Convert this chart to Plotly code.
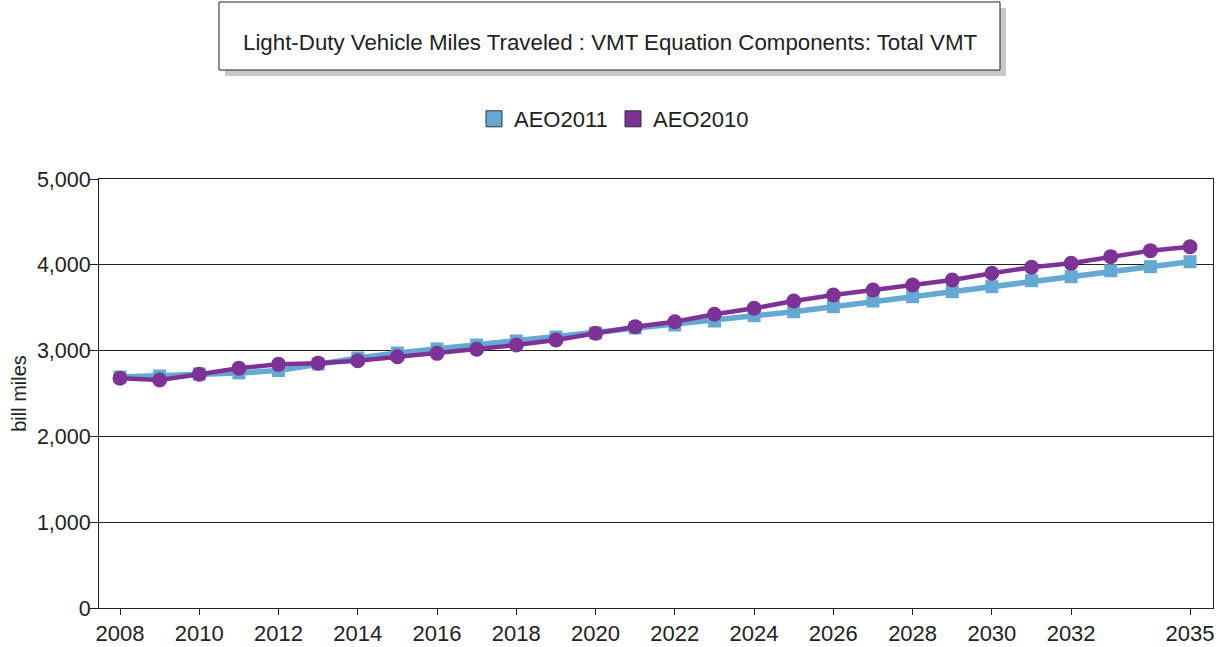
import plotly.graph_objects as go

years = list(range(2008, 2036))
aeo2011 = [2692, 2704, 2727, 2739, 2768, 2844, 2914, 2972, 3019, 3065,
           3112, 3159, 3205, 3263, 3298, 3345, 3407, 3453, 3512, 3578,
           3628, 3687, 3745, 3815, 3861, 3931, 3978, 4036]
aeo2010 = [2677, 2657, 2724, 2794, 2840, 2852, 2882, 2929, 2968, 3015,
           3065, 3124, 3202, 3279, 3337, 3423, 3493, 3578, 3648, 3706,
           3765, 3823, 3901, 3971, 4017, 4095, 4165, 4211]
tick_years = [2008, 2010, 2012, 2014, 2016, 2018, 2020, 2022, 2024, 2026,
              2028, 2030, 2032, 2035]
y_ticks = [0, 1000, 2000, 3000, 4000, 5000]

title_text = "Light-Duty Vehicle Miles Traveled : VMT Equation Components: Total VMT"
c2011 = "#65A9D2"
c2010 = "#7D3395"
FONT = "Liberation Sans, Arial, sans-serif"

fig = go.Figure()
fig.add_trace(go.Scatter(x=years, y=aeo2011, mode="lines+markers", name="AEO2011",
                         line=dict(color=c2011, width=5.5),
                         marker=dict(symbol="square", size=13, color=c2011),
                         showlegend=False))
fig.add_trace(go.Scatter(x=years, y=aeo2010, mode="lines+markers", name="AEO2010",
                         line=dict(color=c2010, width=4.5),
                         marker=dict(symbol="circle", size=15, color=c2010),
                         showlegend=False))
# legend swatches
for nm, col in [("AEO2011", c2011), ("AEO2010", c2010)]:
    fig.add_trace(go.Scatter(x=[None], y=[None], name=nm, mode="markers",
                             marker=dict(symbol="square", size=16, color=col,
                                         line=dict(color="#333333", width=1))))

L, R, T, B = 99, 6, 179, 39
W, H = 1219, 647
pw = W - L - R
ph = H - T - B

def px_x(x):
    return (x - L) / pw

def px_y(y):
    return (H - B - y) / ph

# title box with shadow
fig.add_shape(type="rect", xref="paper", yref="paper",
              x0=px_x(225), x1=px_x(1006), y0=px_y(76), y1=px_y(8),
              fillcolor="#C8C8C8", line=dict(width=0), layer="above")
fig.add_shape(type="rect", xref="paper", yref="paper",
              x0=px_x(219), x1=px_x(1000), y0=px_y(70), y1=px_y(2),
              fillcolor="white", line=dict(color="#222222", width=1), layer="above")
fig.add_annotation(text=title_text, xref="paper", yref="paper",
                   x=px_x(609.5), y=px_y(42), showarrow=False,
                   xanchor="center", yanchor="middle",
                   font=dict(family=FONT, size=22.3, color="#222222"))

fig.update_layout(
    width=W, height=H,
    margin=dict(l=L, r=R, t=T, b=B),
    paper_bgcolor="white", plot_bgcolor="white",
    font=dict(family=FONT, size=22, color="#222222"),
    legend=dict(orientation="h", x=px_x(613), y=px_y(119), xanchor="center",
                yanchor="middle", font=dict(size=22), itemwidth=30,
                entrywidth=94, traceorder="normal"),
    xaxis=dict(range=[2007.47, 2035.58], tickvals=tick_years,
               ticktext=[str(t) for t in tick_years], automargin=False,
               showgrid=False, zeroline=False, showline=True, linecolor="#222222",
               linewidth=1, mirror=True, ticks="outside", ticklen=6,
               tickcolor="#222222", tickfont=dict(size=22)),
    yaxis=dict(range=[0, 5000], tickvals=y_ticks, tickformat=",", automargin=False,
               showgrid=True, gridcolor="#222222", gridwidth=1, zeroline=False,
               showline=True, linecolor="#222222", linewidth=1, mirror=True,
               ticks="outside", ticklen=8, tickcolor="#222222",
               tickfont=dict(size=21.5), ticklabelstandoff=-5,
               title=dict(text="bill miles", font=dict(size=20), standoff=4)),
    showlegend=True,
)

fig.write_html("out.html", config={"displayModeBar": False},
               post_script="document.body.style.margin='0';")
